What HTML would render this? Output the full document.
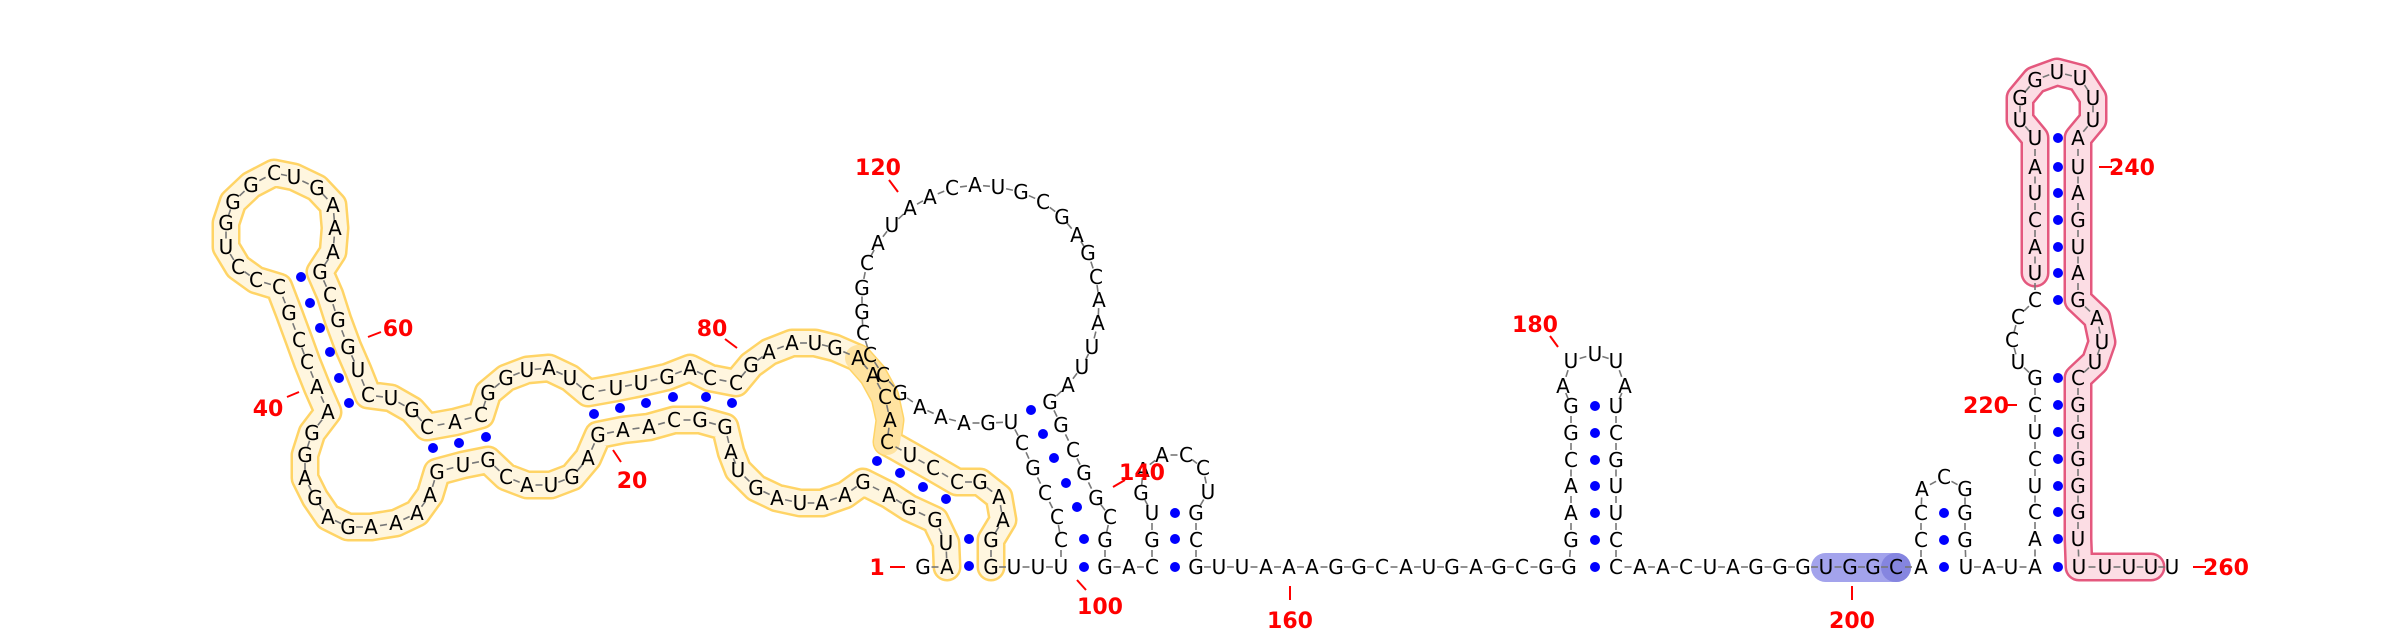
<!DOCTYPE html>
<html><head><meta charset="utf-8"><title>RNA secondary structure</title>
<style>
html,body{margin:0;padding:0;background:#fff;}
svg{display:block;}
.nt{font-family:"DejaVu Sans","Liberation Sans",sans-serif;font-size:20px;fill:#000;}
.lbl{font-family:"DejaVu Sans","Liberation Sans",sans-serif;font-size:22px;font-weight:bold;fill:#ff0000;}
</style></head>
<body>
<svg id="chart" width="2400" height="636" viewBox="0 0 2400 636" xmlns="http://www.w3.org/2000/svg">
<g id="bands"></g>
<g id="links"></g>
<g id="pairs"></g>
<g id="letters"></g>
<g id="labels"></g>
</svg>
<script>
const SEQ = "GAUGGAGAAUAGUAGGCAAG"+"AGUACGUGAAAAGAGAGGAA"+"CCGCCCUGGGCUGAAAGCGG"+"UCUGCACGGUAUCUUGACCG"+
"AAUGAACACUCCGAAGGUUU"+"CCCGCUGAAAGCCCGGCAUA"+"ACAUGCGAGCAAUUAGGCGG"+"CGGACGUGAACCUGCGUUAA"+
"AGGCAUGAGCGGGAACGGAU"+"UUAUCGUUCCAACUAGGGUG"+"GCACCACGGGUAUAACUCUC"+"GUCCCUACUAUUGGUUUUAU"+
"AGUAGAUUCGGGGGUUUUUU";
const POS = [
[923,567],[947,567],[946,543],[935,520],[909,508],[889,495],[863,482],[845,495],[822,503],[800,503],
[777,498],[756,488],[738,470],[731,452],[725,427],[700,420],[674,420],[649,427],[623,430],[598,435],
[588,458],[572,477],[551,485],[527,485],[506,477],[488,460],[463,465],[437,472],[430,495],[417,513],
[396,523],[371,527],[348,527],[328,517],[315,498],[305,478],[305,455],[312,433],[328,412],[317,387],
[307,362],[299,340],[289,313],[279,287],[256,280],[238,267],[226,247],[226,223],[233,202],[251,185],
[274,173],[294,177],[317,188],[333,205],[335,228],[333,252],[320,272],[330,295],[338,320],[348,347],
[358,370],[368,395],[391,398],[412,410],[427,427],[455,422],[481,415],[488,393],[506,378],[527,370],
[549,368],[570,378],[588,393],[616,388],[641,383],[667,377],[690,368],[710,378],[736,383],[751,365],
[769,352],[792,343],[815,343],[835,348],[858,358],[873,375],[885,397],[890,420],[887,442],[910,455],
[933,468],[957,482],[980,482],[999,497],[1003,520],[991,540],[991,567],[1014,567],[1038,567],[1061,567],
[1061,540],[1057,517],[1045,493],[1033,468],[1022,443],[1011,422],[988,423],[964,423],[941,417],[920,407],
[900,393],[883,375],[870,355],[863,333],[862,312],[862,288],[867,263],[878,243],[892,225],[910,208],
[930,197],[952,188],[975,185],[998,187],[1021,192],[1043,202],[1062,217],[1077,235],[1088,253],[1096,277],
[1099,300],[1098,323],[1092,347],[1082,367],[1068,385],[1050,402],[1061,425],[1073,450],[1084,473],[1096,498],
[1110,517],[1105,540],[1105,567],[1129,567],[1152,567],[1152,540],[1152,513],[1141,493],[1143,470],[1162,455],
[1186,455],[1203,468],[1208,492],[1196,513],[1196,540],[1196,567],[1219,567],[1242,567],[1266,567],[1289,567],
[1312,567],[1336,567],[1359,567],[1382,567],[1406,567],[1429,567],[1452,567],[1476,567],[1499,567],[1522,567],
[1546,567],[1569,567],[1571,540],[1571,513],[1571,486],[1571,460],[1571,433],[1571,406],[1563,386],[1571,361],
[1595,354],[1616,361],[1625,386],[1616,406],[1616,433],[1616,460],[1616,486],[1616,513],[1616,540],[1616,567],
[1640,567],[1663,567],[1686,567],[1710,567],[1733,567],[1756,567],[1780,567],[1803,567],[1826,567],[1850,567],
[1873,567],[1896,567],[1921,567],[1921,540],[1921,513],[1922,489],[1944,477],[1965,489],[1965,513],[1965,540],
[1966,567],[1989,567],[2011,567],[2035,567],[2035,539],[2035,512],[2035,486],[2035,459],[2035,432],[2035,405],
[2035,378],[2018,362],[2012,340],[2018,317],[2035,300],[2035,273],[2035,247],[2035,220],[2035,193],[2035,167],
[2035,138],[2020,120],[2020,98],[2035,80],[2057,72],[2080,78],[2093,98],[2093,120],[2078,138],[2078,167],
[2078,193],[2078,220],[2078,247],[2078,273],[2078,300],[2097,318],[2102,342],[2095,362],[2078,378],[2078,405],
[2078,432],[2078,459],[2078,486],[2078,512],[2078,539],[2079,567],[2105,567],[2129,567],[2151,567],[2172,567]
];
const PAIR_DOTS = [
[301,277],[310,303],[320,328],[330,352],[339,378],[349,403],
[433,448],[459,443],[486,437],
[594,414],[620,408],[646,403],[673,397],[706,397],[732,403],
[877,461],[900,473],[923,487],[946,499],[969,539],[969,566],
[1031,410],[1043,434],[1054,458],[1066,483],[1077,507],[1084,539],[1084,567],
[1175,513],[1175,539],[1175,567],
[1595,567],[1595,540],[1595,513],[1595,486],[1595,460],[1595,433],[1595,406],
[1944,567],[1944,540],[1944,513],
[2058,567],[2058,539],[2058,512],[2058,486],[2058,459],[2058,432],[2058,405],[2058,378],
[2058,300],[2058,273],[2058,247],[2058,220],[2058,193],[2058,167],[2058,138]
];
const LABEL_TEXT = ["1","20","40","60","80","100","120","140","160","180","200","220","240","260"];
const LABEL_AT = [[877,567],[632,480],[268,408],[398,328],[712,328],[1100,606],[878,167],[1142,472],[1290,620],[1535,324],[1852,620],[1986,405],[2132,167],[2226,567]];
const LABEL_TICK = [[890,567,905,567],[613,450,621,462],[287,397,299,392],[368,337,381,332],[725,339,737,348],[1077,580,1086,590],[889,180,898,192],[1113,487,1125,480],[1290,586,1290,600],[1550,336,1558,347],[1852,586,1852,600],[2005,405,2017,405],[2099,167,2112,167],[2193,567,2206,567]];

const NS="http://www.w3.org/2000/svg";
function mk(tag, attrs, parent){const e=document.createElementNS(NS,tag);for(const k in attrs)e.setAttribute(k,attrs[k]);parent.appendChild(e);return e;}
function pts(a,b){return POS.slice(a-1,b).map(p=>p.join(",")).join(" ");}

const bands=document.getElementById("bands");
let b1=mk("polyline",{points:pts(2,97),fill:"none",stroke:"#ffd466","stroke-width":29,"stroke-linejoin":"round","stroke-linecap":"round"},bands);


let b2=mk("polyline",{points:pts(2,97),fill:"none",stroke:"#fff6df","stroke-width":24,"stroke-linejoin":"round","stroke-linecap":"round"},bands);


let b3=mk("polyline",{points:pts(85,89),fill:"none",stroke:"#ffe3a0","stroke-width":26,"stroke-linejoin":"round","stroke-linecap":"round"},bands);


let p1=mk("polyline",{points:pts(226,259),fill:"none",stroke:"#e4587e","stroke-width":29,"stroke-linejoin":"round","stroke-linecap":"round"},bands);


let p2=mk("polyline",{points:pts(226,259),fill:"none",stroke:"#fcdde4","stroke-width":24,"stroke-linejoin":"round","stroke-linecap":"round"},bands);


let bx=mk("rect",{x:POS[198][0]-15,y:553,width:POS[201][0]-POS[198][0]+30,height:29,rx:14.5,fill:"#a3a3ec"},bands);


let bc=mk("rect",{x:POS[201][0]-15,y:553,width:30,height:29,rx:14.5,fill:"#8585e0"},bands);



const links=document.getElementById("links");
for(let i=0;i<POS.length-1;i++){
  const [x1,y1]=POS[i],[x2,y2]=POS[i+1];
  const dx=x2-x1,dy=y2-y1,d=Math.hypot(dx,dy);
  const h=Math.min(3.5,d*0.15);
  const mx=(x1+x2)/2,my=(y1+y2)/2;
  const l=mk("line",{x1:mx-dx/d*h,y1:my-dy/d*h,x2:mx+dx/d*h,y2:my+dy/d*h,stroke:"#777","stroke-width":1.6},links);
  
  
}
const pairs=document.getElementById("pairs");
PAIR_DOTS.forEach(p=>{
  const c=mk("circle",{cx:p[0],cy:p[1],r:5,fill:"#0000ff"},pairs);
  
  
});
const letters=document.getElementById("letters");
POS.forEach((p,i)=>{
  const t=mk("text",{x:p[0],y:p[1]+7,"text-anchor":"middle","class":"nt"},letters);
  t.textContent=SEQ[i];
  
  
});
const labels=document.getElementById("labels");
LABEL_TEXT.forEach((s,i)=>{
  const tk=LABEL_TICK[i];
  const l=mk("line",{x1:tk[0],y1:tk[1],x2:tk[2],y2:tk[3],stroke:"#ff0000","stroke-width":2},labels);
  
  
  const t=mk("text",{x:LABEL_AT[i][0],y:LABEL_AT[i][1]+8,"text-anchor":"middle","class":"lbl"},labels);
  t.textContent=s;
  
  
});
</script>
</body></html>
